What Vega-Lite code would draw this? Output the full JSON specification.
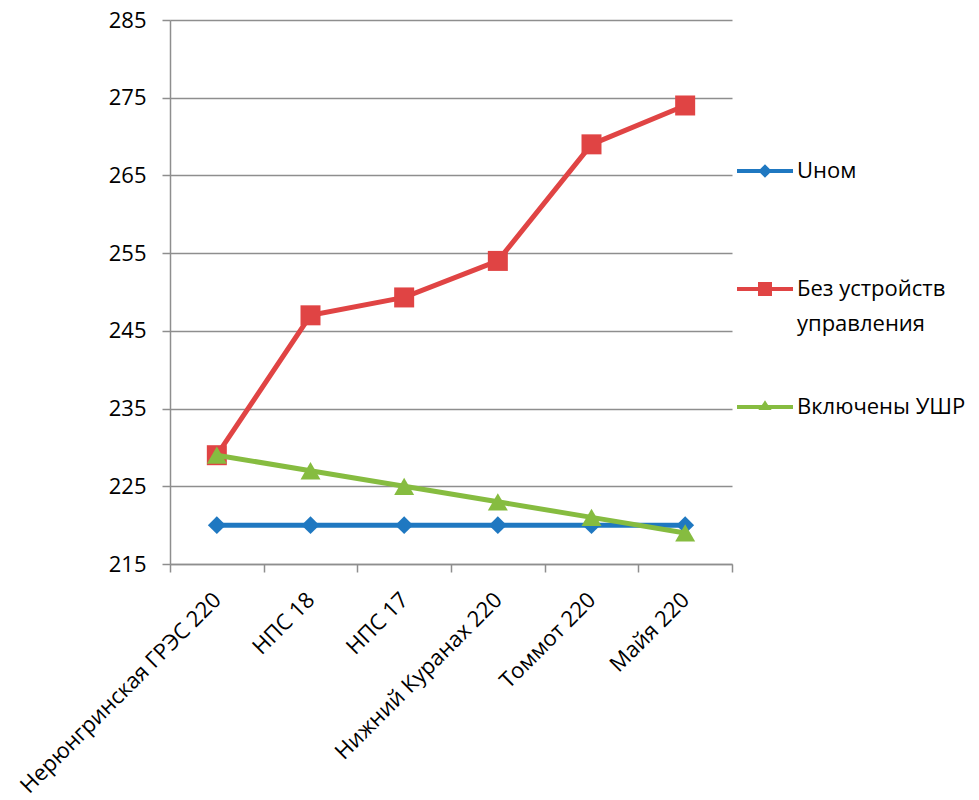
{
  "$schema": "https://vega.github.io/schema/vega-lite/v6.json",
  "width": 562,
  "height": 544,
  "autosize": {"type": "none"},
  "padding": {"left": 170, "top": 20, "right": 247, "bottom": 236},
  "background": "white",
  "config": {
    "view": {"stroke": null},
    "font": "Open Sans",
    "axis": {
      "labelFont": "Open Sans",
      "labelFontSize": 22,
      "labelColor": "#000000",
      "domainColor": "#8e8e8e",
      "domainWidth": 1.5,
      "tickColor": "#8e8e8e",
      "tickWidth": 1.5,
      "tickSize": 8,
      "gridColor": "#8e8e8e",
      "gridWidth": 1.5,
      "title": null
    },
    "legend": {
      "orient": "none",
      "legendX": 567,
      "legendY": 123,
      "title": null,
      "labelFont": "Open Sans",
      "labelFontSize": 22,
      "labelColor": "#000000",
      "labelOffset": 4,
      "labelLimit": 300,
      "rowPadding": 28,
      "symbolSize": 3136,
      "symbolStrokeWidth": 0
    }
  },
  "data": {
    "values": [
      {"station": "Нерюнгринская ГРЭС 220", "series": "Uном", "value": 220},
      {"station": "НПС 18", "series": "Uном", "value": 220},
      {"station": "НПС 17", "series": "Uном", "value": 220},
      {"station": "Нижний Куранах 220", "series": "Uном", "value": 220},
      {"station": "Томмот 220", "series": "Uном", "value": 220},
      {"station": "Майя 220", "series": "Uном", "value": 220},
      {"station": "Нерюнгринская ГРЭС 220", "series": "Без устройств управления", "value": 229},
      {"station": "НПС 18", "series": "Без устройств управления", "value": 247},
      {"station": "НПС 17", "series": "Без устройств управления", "value": 249.3},
      {"station": "Нижний Куранах 220", "series": "Без устройств управления", "value": 254},
      {"station": "Томмот 220", "series": "Без устройств управления", "value": 269},
      {"station": "Майя 220", "series": "Без устройств управления", "value": 274},
      {"station": "Нерюнгринская ГРЭС 220", "series": "Включены УШР", "value": 229},
      {"station": "НПС 18", "series": "Включены УШР", "value": 227},
      {"station": "НПС 17", "series": "Включены УШР", "value": 225},
      {"station": "Нижний Куранах 220", "series": "Включены УШР", "value": 223},
      {"station": "Томмот 220", "series": "Включены УШР", "value": 221},
      {"station": "Майя 220", "series": "Включены УШР", "value": 219}
    ]
  },
  "encoding": {
    "x": {
      "field": "station",
      "type": "nominal",
      "sort": null,
      "scale": {"type": "band", "paddingInner": 0, "paddingOuter": 0},
      "axis": {
        "grid": false,
        "tickBand": "extent",
        "labelAngle": -45,
        "labelAlign": "right",
        "labelBaseline": "middle",
        "labelPadding": 24,
        "labelLimit": 400
      }
    },
    "y": {
      "field": "value",
      "type": "quantitative",
      "scale": {"domain": [215, 285], "nice": false, "zero": false},
      "axis": {
        "values": [215, 225, 235, 245, 255, 265, 275, 285],
        "grid": true,
        "labelPadding": 16
      }
    }
  },
  "layer": [
    {
      "transform": [{"filter": "datum.series === 'Uном'"}],
      "mark": {
        "type": "line",
        "color": "#1f78c1",
        "strokeWidth": 5,
        "point": {"shape": "diamond", "size": 320, "filled": true, "color": "#1f78c1", "opacity": 1}
      }
    },
    {
      "transform": [{"filter": "datum.series === 'Без устройств управления'"}],
      "mark": {
        "type": "line",
        "color": "#e04444",
        "strokeWidth": 5,
        "point": {"shape": "square", "size": 400, "filled": true, "color": "#e04444", "opacity": 1}
      }
    },
    {
      "transform": [{"filter": "datum.series === 'Включены УШР'"}],
      "mark": {
        "type": "line",
        "color": "#86bc40",
        "strokeWidth": 5,
        "point": {"shape": "triangle-up", "size": 400, "filled": true, "color": "#86bc40", "opacity": 1}
      }
    },
    {
      "mark": {"type": "point", "filled": true, "opacity": 0},
      "encoding": {
        "color": {
          "field": "series",
          "type": "nominal",
          "scale": {
            "domain": ["Uном", "Без устройств управления", "Включены УШР"],
            "range": ["#1f78c1", "#e04444", "#86bc40"]
          },
          "legend": {
            "labelExpr": "datum.label === 'Без устройств управления' ? ['Без устройств', 'управления'] : datum.label",
            "encode": {
              "symbols": {"update": {"opacity": {"value": 1}, "fillOpacity": {"value": 1}}},
              "labels": {"update": {"lineHeight": {"value": 35}}}
            }
          }
        },
        "shape": {
          "field": "series",
          "type": "nominal",
          "scale": {
            "domain": ["Uном", "Без устройств управления", "Включены УШР"],
            "range": [
              "M0,-0.9L0,-0.9M0,2.2L0,2.2M-1,-0.07H-0.17L0,-0.24L0.17,-0.07H1V0.07H0.17L0,0.24L-0.17,0.07H-1Z",
              "M0,-0.9L0,-0.9M0,2.2L0,2.2M-1,-0.07H-0.25V-0.25H0.25V-0.07H1V0.07H0.25V0.25H-0.25V0.07H-1Z",
              "M0,-0.9L0,-0.9M0,2.2L0,2.2M-1,-0.07H-0.11L0,-0.24L0.11,-0.07H1V0.07H0.21L0.24,0.11H-0.24L-0.21,0.07H-1Z"
            ]
          },
          "legend": {
            "labelExpr": "datum.label === 'Без устройств управления' ? ['Без устройств', 'управления'] : datum.label",
            "encode": {
              "symbols": {"update": {"opacity": {"value": 1}, "fillOpacity": {"value": 1}}},
              "labels": {"update": {"lineHeight": {"value": 35}}}
            }
          }
        }
      }
    }
  ]
}
